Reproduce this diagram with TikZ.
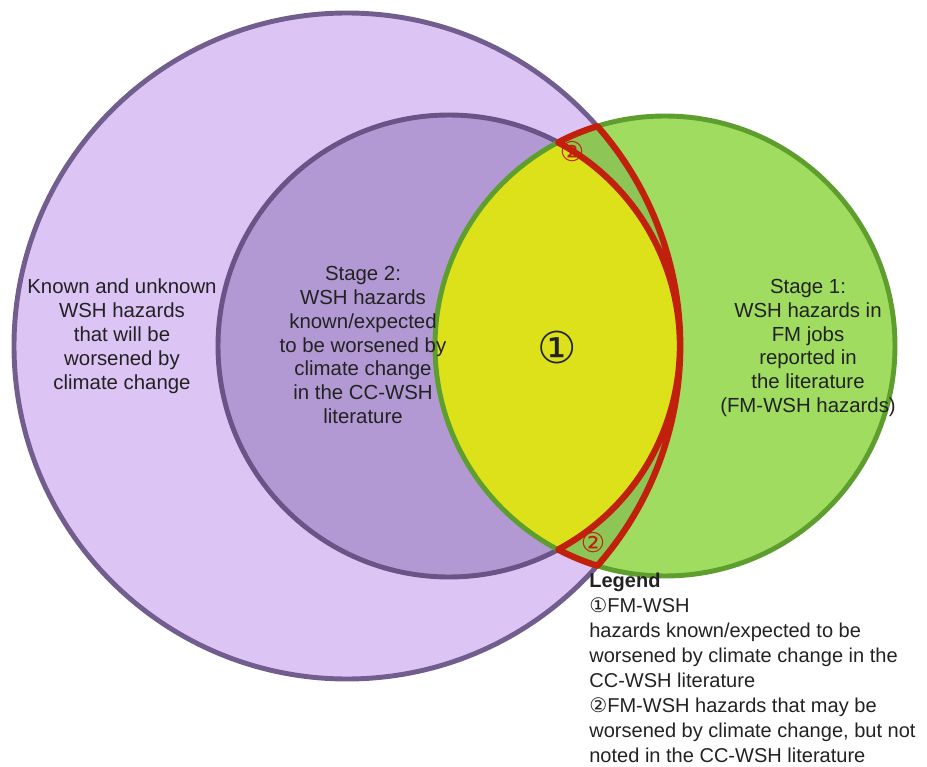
\documentclass[tikz,border=0pt]{standalone}
\usepackage{fontspec}
\setmainfont{Liberation Sans}
\newfontfamily\circfont{DejaVu Sans}
\usepackage{xcolor}
\usepackage{tikz}
\definecolor{outerfill}{HTML}{DCC4F4}
\definecolor{outerline}{HTML}{715D8E}
\definecolor{innerfill}{HTML}{B299D3}
\definecolor{innerline}{HTML}{6A5386}
\definecolor{greenfill}{HTML}{A0DC60}
\definecolor{greenline}{HTML}{5E9E2E}
\definecolor{yellowfill}{HTML}{DDE11A}
\definecolor{regiontwo}{HTML}{8DC657}
\definecolor{redline}{HTML}{C0200C}
\definecolor{textdark}{HTML}{222222}
\tikzset{
  venn outer/.style={fill=outerfill, draw=outerline, line width=2.8pt},
  venn inner/.style={fill=innerfill, draw=innerline, line width=2.8pt},
  venn green/.style={draw=greenline, line width=2.8pt},
  venn red/.style={draw=redline, line width=3.6pt, line join=round},
  venn text/.style={align=center, text=textdark, inner sep=0pt, font=\fontsize{11.6}{13.6}\selectfont},
  venn mark/.style={text=redline, inner sep=0pt, font=\circfont\fontsize{15.5}{15.5}\selectfont},
  venn legend/.style={align=left, text=textdark, inner sep=0pt, font=\fontsize{11.4}{14.2}\selectfont}
}

\begin{document}
\begin{tikzpicture}[x=0.02cm, y=-0.02cm]
    \useasboundingbox (0,0) rectangle (927,767);
    % Centres and crossing points
    \coordinate (outerC) at (347,346);
    \coordinate (innerC) at (449,346);
    \coordinate (greenC) at (665,346);
    \coordinate (topIn) at (558.1,142.4);
    \coordinate (botIn) at (558.1,549.6);

    % Known and unknown hazards
    \draw [venn outer] (outerC) circle[radius=333];
    % Stage 2
    \draw [venn inner] (innerC) circle[radius=231];
    % Stage 1
    \fill [greenfill] (greenC) circle[radius=230];

    % Region 1
    \fill [yellowfill] (topIn) arc[start angle=-117.7, end angle=-242.3, radius=230]
        arc[start angle=61.8, end angle=-61.8, radius=231] -- cycle;
    % Region 2
    \fill [regiontwo] (topIn) arc[start angle=-117.7, end angle=-107.1, radius=230]
        arc[start angle=-41.3, end angle=41.3, radius=333]
        arc[start angle=107.1, end angle=117.7, radius=230]
        arc[start angle=61.8, end angle=-61.8, radius=231] -- cycle;

    \draw [venn green] (greenC) circle[radius=230];
    \draw [venn red] (topIn) arc[start angle=-117.7, end angle=-107.1, radius=230]
        arc[start angle=-41.3, end angle=41.3, radius=333]
        arc[start angle=107.1, end angle=117.7, radius=230]
        arc[start angle=61.8, end angle=-61.8, radius=231] -- cycle;

    % Labels
    \node [venn text] (outerLbl) at (122,336) {Known and unknown\\WSH hazards\\that will be\\worsened by\\climate change};
    \node [venn text] (stageTwo) at (363,345) {Stage 2:\\WSH hazards\\known/expected\\to be worsened by\\climate change\\in the CC-WSH\\literature};
    \node [venn text] (stageOne) at (808,348) {Stage 1:\\WSH hazards in\\FM jobs\\reported in\\the literature\\(FM-WSH hazards)};
    \node [text=textdark, inner sep=0pt, font=\circfont\fontsize{25}{25}\selectfont] (regionOne) at (557,347) {①};
    \node [venn mark] (markTop) at (572,152) {②};
    \node [venn mark] (markBot) at (593,543) {②};

    % Legend
    \node [venn legend, anchor=north west] (legend) at (589,573) {\textbf{Legend}\\{\circfont ①}FM-WSH\\hazards known/expected to be\\worsened by climate change in the\\CC-WSH literature\\{\circfont ②}FM-WSH hazards that may be\\worsened by climate change, but not\\noted in the CC-WSH literature};
\end{tikzpicture}
\end{document}
